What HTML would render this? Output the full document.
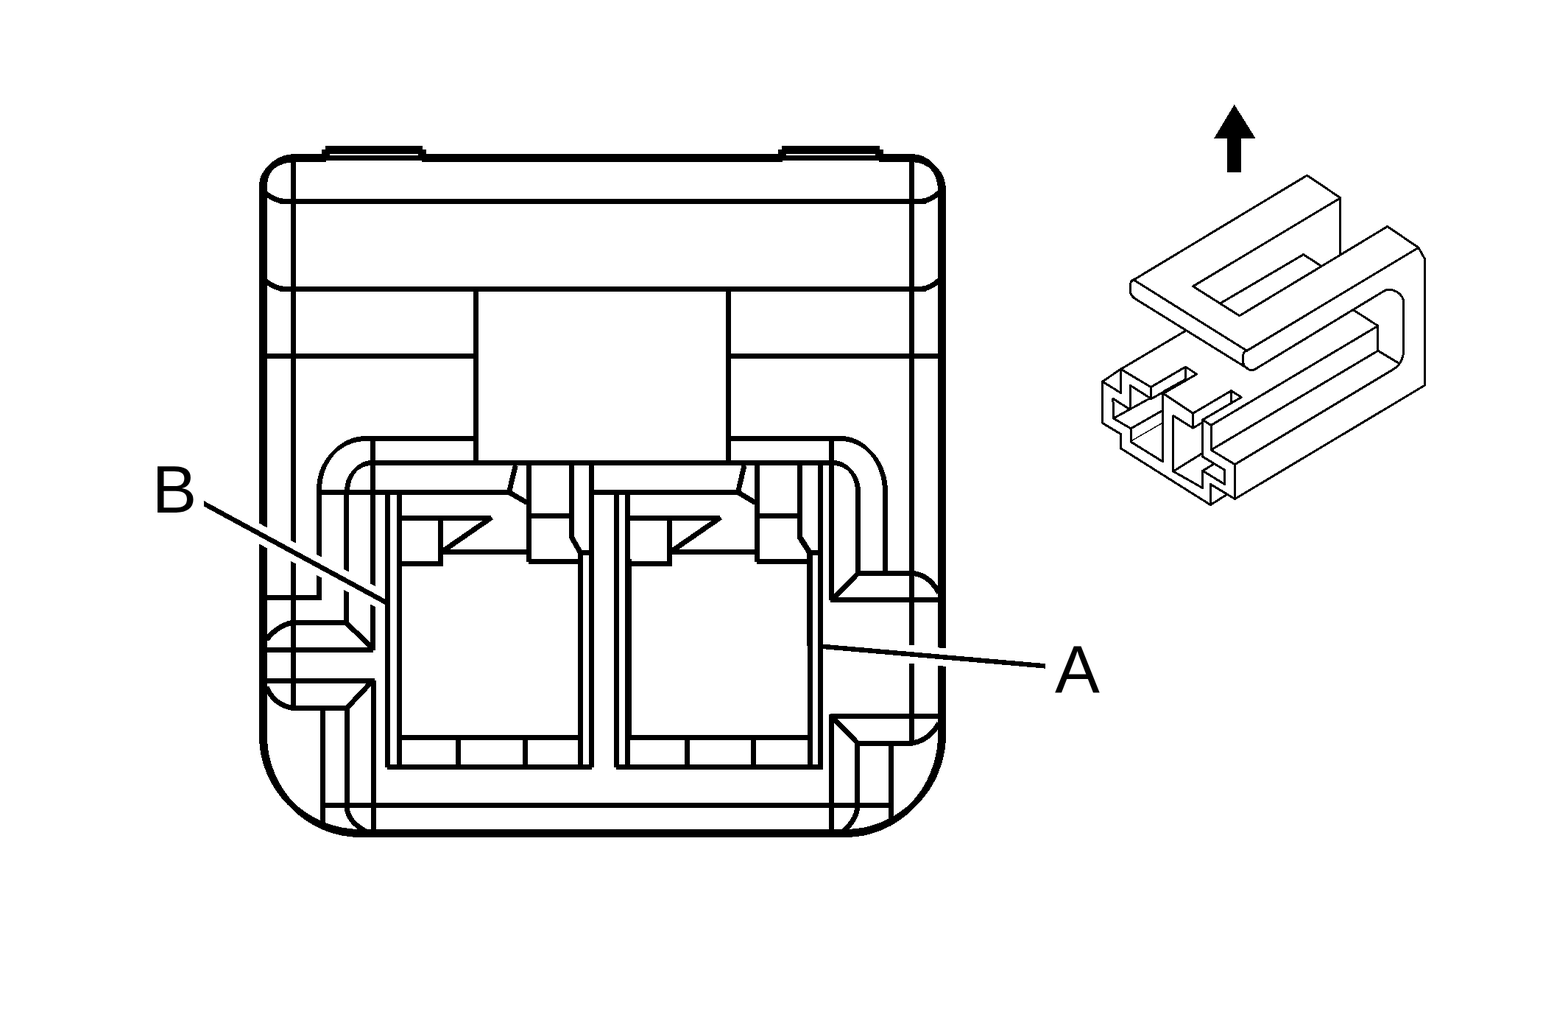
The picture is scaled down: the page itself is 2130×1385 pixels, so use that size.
<!DOCTYPE html>
<html><head><meta charset="utf-8"><title>Connector end view</title>
<style>
html,body{margin:0;padding:0;background:#fff;}
body{width:2130px;height:1385px;overflow:hidden;}
svg{display:block}
text{font-family:"Liberation Sans",Arial,Helvetica,sans-serif;fill:#000;stroke:none}
</style></head>
<body>
<svg width="2130" height="1385" viewBox="0 0 2130 1385" shape-rendering="crispEdges">
<rect x="0" y="0" width="2130" height="1385" fill="#fff"/>
<g fill="none" stroke="#000">
<line x1="357.5" y1="249" x2="357.5" y2="1001" stroke-width="11"/>
<line x1="399" y1="214.5" x2="1240.5" y2="214.5" stroke-width="11"/>
<line x1="1279.5" y1="255.5" x2="1279.5" y2="1000.5" stroke-width="11"/>
<line x1="487.5" y1="1131.5" x2="1150.5" y2="1131.5" stroke-width="11"/>
<path d="M352.0 251 A43.5 36.5 0 0 1 395.5 214.5 L406.5 214.5 A43.5 36.5 0 0 0 363.0 251 Z" fill="#000" stroke="none"/>
<path d="M357.5 245.5 A43.5 36.5 0 0 1 401 209.0 L401 220.0 A43.5 36.5 0 0 0 357.5 256.5 Z" fill="#000" stroke="none"/>
<path d="M1233.0 214.5 A41 43 0 0 1 1274.0 257.5 L1285.0 257.5 A41 43 0 0 0 1244.0 214.5 Z" fill="#000" stroke="none"/>
<path d="M1238.5 209.0 A41 43 0 0 1 1279.5 252.0 L1279.5 263.0 A41 43 0 0 0 1238.5 220.0 Z" fill="#000" stroke="none"/>
<path d="M1274.0 997.5 A131 134 0 0 1 1143.0 1131.5 L1154.0 1131.5 A131 134 0 0 0 1285.0 997.5 Z" fill="#000" stroke="none"/>
<path d="M1279.5 992.0 A131 134 0 0 1 1148.5 1126.0 L1148.5 1137.0 A131 134 0 0 0 1279.5 1003.0 Z" fill="#000" stroke="none"/>
<path d="M484.0 1131.5 A132 132.5 0 0 1 352.0 999 L363.0 999 A132 132.5 0 0 0 495.0 1131.5 Z" fill="#000" stroke="none"/>
<path d="M489.5 1126.0 A132 132.5 0 0 1 357.5 993.5 L357.5 1004.5 A132 132.5 0 0 0 489.5 1137.0 Z" fill="#000" stroke="none"/>
<rect x="442" y="198" width="132" height="11" fill="#000" stroke="none"/>
<rect x="437" y="203" width="6" height="17" fill="#000" stroke="none"/>
<rect x="572.5" y="203" width="6.5" height="17" fill="#000" stroke="none"/>
<rect x="448" y="209" width="120" height="2" fill="#fff" stroke="none"/>
<rect x="443" y="218" width="129.5" height="2" fill="#fff" stroke="none"/>
<rect x="1062" y="198" width="133" height="11" fill="#000" stroke="none"/>
<rect x="1057" y="203" width="6" height="17" fill="#000" stroke="none"/>
<rect x="1193.5" y="203" width="6.5" height="17" fill="#000" stroke="none"/>
<rect x="1068" y="209" width="121" height="2" fill="#fff" stroke="none"/>
<rect x="1063" y="218" width="130.5" height="2" fill="#fff" stroke="none"/>
<line x1="379.5" y1="273.5" x2="1257.5" y2="273.5" stroke-width="7"/>
<path d="M361.5 263.0 Q373.5 272.5 386.5 273.5 L391.5 273.5" stroke-width="7"/>
<path d="M1245.5 273.5 L1250.5 273.5 Q1264.5 272.5 1275.5 261.5" stroke-width="7"/>
<line x1="379.5" y1="392.5" x2="1257.5" y2="392.5" stroke-width="7"/>
<path d="M361.5 382.0 Q373.5 391.5 386.5 392.5 L391.5 392.5" stroke-width="7"/>
<path d="M1245.5 392.5 L1250.5 392.5 Q1264.5 391.5 1275.5 380.5" stroke-width="7"/>
<line x1="398.5" y1="214.5" x2="398.5" y2="961.5" stroke-width="7"/>
<line x1="1238.5" y1="214.5" x2="1238.5" y2="1009.5" stroke-width="7"/>
<line x1="357.5" y1="483.5" x2="646.5" y2="483.5" stroke-width="7"/>
<line x1="989.5" y1="483.5" x2="1279.5" y2="483.5" stroke-width="7"/>
<line x1="646.5" y1="392.5" x2="646.5" y2="632" stroke-width="7"/>
<line x1="989.5" y1="392.5" x2="989.5" y2="632" stroke-width="7"/>
<line x1="495" y1="595.5" x2="650" y2="595.5" stroke-width="7"/>
<line x1="986" y1="595.5" x2="1144" y2="595.5" stroke-width="7"/>
<path d="M493.5 595.5 A63.5 69.5 0 0 0 430.0 665 L437.0 665 A63.5 69.5 0 0 1 500.5 595.5 Z" fill="#000" stroke="none"/>
<path d="M497 592.0 A63.5 69.5 0 0 0 433.5 661.5 L433.5 668.5 A63.5 69.5 0 0 1 497 599.0 Z" fill="#000" stroke="none"/>
<line x1="433.5" y1="663" x2="433.5" y2="815" stroke-width="7"/>
<line x1="357.5" y1="811.5" x2="434" y2="811.5" stroke-width="7"/>
<path d="M1138.5 595.5 A60.5 72.5 0 0 1 1199.0 668 L1206.0 668 A60.5 72.5 0 0 0 1145.5 595.5 Z" fill="#000" stroke="none"/>
<path d="M1142 592.0 A60.5 72.5 0 0 1 1202.5 664.5 L1202.5 671.5 A60.5 72.5 0 0 0 1142 599.0 Z" fill="#000" stroke="none"/>
<line x1="1202.5" y1="666" x2="1202.5" y2="778.5" stroke-width="7"/>
<line x1="503" y1="628.5" x2="1134" y2="628.5" stroke-width="7"/>
<path d="M501.5 628.5 A33.5 38.5 0 0 0 468.0 667 L475.0 667 A33.5 38.5 0 0 1 508.5 628.5 Z" fill="#000" stroke="none"/>
<path d="M505 625.0 A33.5 38.5 0 0 0 471.5 663.5 L471.5 670.5 A33.5 38.5 0 0 1 505 632.0 Z" fill="#000" stroke="none"/>
<line x1="470.5" y1="665" x2="470.5" y2="845.5" stroke-width="7"/>
<path d="M1128.5 628.5 A33.5 38.5 0 0 1 1162.0 667 L1169.0 667 A33.5 38.5 0 0 0 1135.5 628.5 Z" fill="#000" stroke="none"/>
<path d="M1132 625.0 A33.5 38.5 0 0 1 1165.5 663.5 L1165.5 670.5 A33.5 38.5 0 0 0 1132 632.0 Z" fill="#000" stroke="none"/>
<line x1="1165.5" y1="665" x2="1165.5" y2="778.5" stroke-width="7"/>
<line x1="506.5" y1="592" x2="506.5" y2="883" stroke-width="7"/>
<line x1="1129.5" y1="592" x2="1129.5" y2="815" stroke-width="7"/>
<line x1="430" y1="668.5" x2="690" y2="668.5" stroke-width="7"/>
<line x1="807" y1="668.5" x2="1001" y2="668.5" stroke-width="7"/>
<line x1="526.5" y1="668.5" x2="526.5" y2="1042" stroke-width="7"/>
<line x1="542.5" y1="668.5" x2="542.5" y2="1045" stroke-width="7"/>
<line x1="546" y1="703.5" x2="665" y2="703.5" stroke-width="7"/>
<path d="M668 702.5 L600.5 749" stroke-width="7"/>
<line x1="598.5" y1="703.5" x2="598.5" y2="769" stroke-width="7"/>
<line x1="602" y1="749.5" x2="715" y2="749.5" stroke-width="7"/>
<line x1="544" y1="765.5" x2="602" y2="765.5" stroke-width="7"/>
<line x1="718.5" y1="628.5" x2="718.5" y2="763" stroke-width="7"/>
<path d="M776.5 628.5 L776.5 729.5 L788.5 750.5 L788.5 1045" stroke-width="7"/>
<line x1="722" y1="700.5" x2="773" y2="700.5" stroke-width="7"/>
<line x1="718" y1="762.5" x2="786" y2="762.5" stroke-width="7"/>
<line x1="790" y1="750.5" x2="800" y2="750.5" stroke-width="7"/>
<path d="M700.3 632 L691.5 668.5 L716 682.6" stroke-width="7"/>
<line x1="803.5" y1="628.5" x2="803.5" y2="1042" stroke-width="7"/>
<line x1="544" y1="1001.5" x2="786" y2="1001.5" stroke-width="7"/>
<line x1="526" y1="1041.5" x2="804" y2="1041.5" stroke-width="7"/>
<line x1="622.5" y1="1003" x2="622.5" y2="1040" stroke-width="7"/>
<line x1="713.5" y1="1003" x2="713.5" y2="1040" stroke-width="7"/>
<line x1="837.5" y1="668.5" x2="837.5" y2="1042" stroke-width="7"/>
<line x1="852.5" y1="668.5" x2="852.5" y2="1045" stroke-width="7"/>
<line x1="854.5" y1="758.5" x2="854.5" y2="998" stroke-width="7"/>
<line x1="856" y1="703.5" x2="976" y2="703.5" stroke-width="7"/>
<path d="M979 702.5 L911.5 749" stroke-width="7"/>
<line x1="909.5" y1="703.5" x2="909.5" y2="769" stroke-width="7"/>
<line x1="913" y1="749.5" x2="1025" y2="749.5" stroke-width="7"/>
<line x1="856" y1="765.5" x2="913" y2="765.5" stroke-width="7"/>
<line x1="1028.5" y1="628.5" x2="1028.5" y2="763" stroke-width="7"/>
<path d="M1086.5 628.5 L1086.5 729.5 L1100 750.5 L1100 877" stroke-width="7.6"/>
<line x1="1100.5" y1="876" x2="1100.5" y2="1045" stroke-width="7"/>
<line x1="1032" y1="700.5" x2="1083" y2="700.5" stroke-width="7"/>
<line x1="1028" y1="762.5" x2="1097" y2="762.5" stroke-width="7"/>
<line x1="1102" y1="750.5" x2="1111" y2="750.5" stroke-width="7"/>
<path d="M1011 632 L1002.5 668.5 L1026 682.6" stroke-width="7"/>
<line x1="1114.5" y1="628.5" x2="1114.5" y2="1045" stroke-width="7"/>
<line x1="856" y1="1001.5" x2="1098" y2="1001.5" stroke-width="7"/>
<line x1="837" y1="1041.5" x2="1118" y2="1041.5" stroke-width="7"/>
<line x1="933.5" y1="1003" x2="933.5" y2="1040" stroke-width="7"/>
<line x1="1023.5" y1="1003" x2="1023.5" y2="1040" stroke-width="7"/>
<line x1="396" y1="845.5" x2="474" y2="845.5" stroke-width="7"/>
<path d="M362 868.5 Q375.8 850.5 396 845.5" stroke-width="7"/>
<path d="M470 845.5 L508 882" stroke-width="7"/>
<line x1="362" y1="882.5" x2="507.2" y2="882.5" stroke-width="7"/>
<line x1="362" y1="924.5" x2="508.5" y2="924.5" stroke-width="7"/>
<path d="M506.5 924 L472 960.5" stroke-width="7"/>
<line x1="396" y1="961.5" x2="475" y2="961.5" stroke-width="7"/>
<path d="M362 933 Q372 957 398 961.5" stroke-width="7"/>
<line x1="507.5" y1="924" x2="507.5" y2="1128" stroke-width="7"/>
<line x1="438.5" y1="961.5" x2="438.5" y2="1124" stroke-width="7"/>
<path d="M471.5 961.5 L471.5 1097 Q472 1115 497 1129" stroke-width="7"/>
<line x1="435" y1="1093.5" x2="1214" y2="1093.5" stroke-width="7"/>
<line x1="1162.5" y1="778.5" x2="1242" y2="778.5" stroke-width="7"/>
<path d="M1241 778.5 Q1262 781 1275.5 805" stroke-width="7"/>
<path d="M1166 778 L1130 814.5" stroke-width="7"/>
<line x1="1127.5" y1="814.5" x2="1275" y2="814.5" stroke-width="7"/>
<line x1="1128" y1="972.5" x2="1275" y2="972.5" stroke-width="7"/>
<path d="M1130 973.5 L1166 1010" stroke-width="7"/>
<line x1="1161" y1="1009.5" x2="1238" y2="1009.5" stroke-width="7"/>
<path d="M1237 1009.5 Q1262 1006 1275.5 982" stroke-width="7"/>
<line x1="1129.5" y1="969.5" x2="1129.5" y2="1128" stroke-width="7"/>
<path d="M1164.5 1009.5 L1164.5 1097 Q1163 1114 1145 1129" stroke-width="7"/>
<line x1="1210.5" y1="1009.5" x2="1210.5" y2="1116" stroke-width="7"/>
</g>
<clipPath id="lb"><rect x="277" y="0" width="246" height="1385"/></clipPath>
<g clip-path="url(#lb)"><line x1="250.63" y1="669.55" x2="549.37" y2="831.50" stroke="#fff" stroke-width="24.5"/><line x1="250.63" y1="669.55" x2="549.37" y2="831.50" stroke="#000" stroke-width="6.6"/></g>
<clipPath id="la"><rect x="1118" y="0" width="302" height="1385"/></clipPath>
<g clip-path="url(#la)"><line x1="1088.11" y1="875.28" x2="1449.89" y2="907.02" stroke="#fff" stroke-width="24.5"/><line x1="1088.11" y1="875.28" x2="1449.89" y2="907.02" stroke="#000" stroke-width="6.5"/></g>
<path d="M1676.75 142 L1705.5 187.7 L1686.25 187.7 L1686.25 234 L1667.25 234 L1667.25 187.7 L1649.25 187.7 Z" fill="#000" stroke="none"/>
<g fill="none" stroke="#000" stroke-width="3.0" stroke-linejoin="round" stroke-linecap="round">
<path d="M1540 380 L1775.6 238.1 L1820.9 268.75 L1620.6 388.75 L1683.75 428.75 L1884.75 307.5 L1926.9 336.25 L1935.6 351.9 L1935.6 523.1 L1677.5 677.5"/>
<path d="M1820.9 268.75 L1820.9 346"/>
<path d="M1926.9 336.25 L1693.75 476.25 L1540 380"/>
<path d="M1541 379.3 Q1535.4 381.5 1535.4 387 L1535.4 395.5 Q1535.8 401 1541.5 405.3 L1696.25 501.25"/>
<path d="M1693.5 475.8 Q1688.6 478.5 1688.6 484 L1688.6 492.5 Q1690 499 1697 502 Q1701 503.5 1705 501.3 L1881.25 394.4 Q1888 391.5 1897.5 396.25 Q1906.9 402 1906.9 412 L1906.9 475 Q1906 495 1890 503.1 L1677.5 630.6"/>
<path d="M1658.75 411.25 L1770.6 345.6 L1795 361.25"/>
<path d="M1838.1 420.6 L1871.9 442.5 L1871.9 476.25 L1900 493.1"/>
<path d="M1871.9 442.5 L1645 577.5"/>
<path d="M1871.9 476.25 L1645 611"/>
<path d="M1677.5 677.5 L1677.5 630.6 L1645 611 L1645 577.5 L1633.5 570 L1633.5 620 L1663.5 638.1 L1663.5 657.5 L1635 640"/>
<path d="M1648.1 630.6 L1633.5 639.4 L1633.5 662.5 L1593.75 640 L1593.75 564.4 L1620.6 581.25 L1633.1 573.75"/>
<path d="M1593.75 640 L1633.1 615.6"/>
<path d="M1677.5 677.5 L1644.4 657.5 L1644.4 685.6 L1665 672.5"/>
<path d="M1644.4 685.6 L1522.5 608.75 L1522.5 589.4 L1497.5 574.4 L1497.5 518.1 L1522.5 501.25 L1611.25 448.75"/>
<path d="M1497.5 518.1 L1522.5 533.5 L1522.5 501.25 L1563.4 525.6 L1563.4 541.9 L1580 532.5"/>
<path d="M1563.4 525.6 L1610.6 498.1 L1625.6 508.1 L1580 534.4"/>
<path d="M1610.6 498.1 L1610.6 515 L1580 532"/>
<path d="M1535 555 L1535 523.1 L1562.5 540.6 L1512.5 568.1 L1511.9 541.25 L1532.5 554.4"/>
<path d="M1512.5 568.1 L1536.25 581.9 L1580 556.9"/>
<path d="M1536.25 581.9 L1536.25 600 L1579.6 626.9 L1579.6 533.75 L1620.6 561.25 L1620.6 581.25"/>
<path d="M1536.25 599 L1578.75 574.4" stroke-width="1.5"/>
<path d="M1620.6 561.25 L1672.5 530.6 L1686.25 539.4 L1633.75 570"/>
<path d="M1672.5 530.6 L1672.5 546.9"/>
</g>
<text x="206.6" y="695.7" font-size="91.3">B</text>
<text x="1433.0" y="940.1" font-size="91.3">A</text>
</svg>
</body></html>
